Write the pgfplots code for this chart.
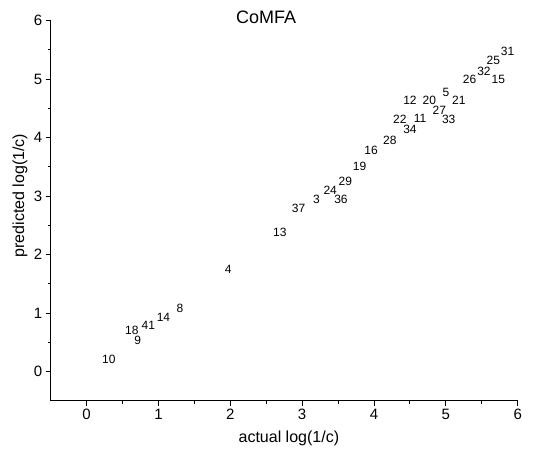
\documentclass[border=0pt]{standalone}
\usepackage{fontspec}
\setmainfont{Liberation Sans}
\usepackage{pgfplots}
\pgfplotsset{compat=1.18}
\usepackage{pgfplotstable}

% actual vs predicted log(1/c), compound numbers as labels
\pgfplotstableread{
x    y    label
5.86 5.48 31
5.66 5.32 25
5.53 5.14 32
5.33 4.99 26
5.73 4.99 15
5.00 4.78 5
5.18 4.64 21
4.50 4.64 12
4.77 4.64 20
4.91 4.47 27
4.64 4.33 11
5.04 4.31 33
4.36 4.31 22
4.50 4.14 34
4.22 3.96 28
3.96 3.79 16
3.80 3.50 19
3.60 3.26 29
3.39 3.10 24
3.54 2.95 36
3.20 2.94 3
2.95 2.79 37
2.69 2.38 13
1.97 1.75 4
1.30 1.08 8
1.07 0.93 14
0.86 0.78 41
0.63 0.71 18
0.71 0.53 9
0.31 0.20 10
}\comfa

\begin{document}
\begin{tikzpicture}
\begin{axis}[
  scale only axis,
  width=467pt, height=380pt,
  xmin=-0.5, xmax=6, ymin=-0.5, ymax=6,
  axis x line=bottom, axis y line=left,
  axis line style={-, line width=1.1pt},
  tick align=outside,
  major tick length=5pt, minor tick length=3pt,
  minor tick num=1,
  tick style={line width=1pt, black},
  xtick={0,1,2,3,4,5,6}, ytick={0,1,2,3,4,5,6},
  ticklabel style={font=\fontsize{15}{17}\selectfont},
  /pgf/number format/assume math mode=true,
  xlabel={actual log(1/c)},
  ylabel={predicted log(1/c)},
  every axis x label/.style={at={(axis description cs:0.51,-0.098)}, anchor=center,
    font=\fontsize{16}{18}\selectfont},
  every axis y label/.style={at={(axis description cs:-0.066,0.54)}, rotate=90, anchor=center,
    font=\fontsize{16}{18}\selectfont},
  clip=false,
]
\coordinate (ll) at (rel axis cs:0,0);
\addplot[only marks, mark=none, nodes near coords, point meta=explicit symbolic,
  nodes near coords style={anchor=center, inner sep=0pt, font=\fontsize{12}{14}\selectfont}]
  table[meta=label] {\comfa};
\node[font=\fontsize{18}{20}\selectfont] at (axis cs:2.5,6.05) {CoMFA};
\end{axis}
\pgfresetboundingbox
\path ([shift={(-50.7pt,-54.3pt)}]ll) rectangle ([shift={(506.3pt,400.7pt)}]ll);
\end{tikzpicture}
\end{document}
